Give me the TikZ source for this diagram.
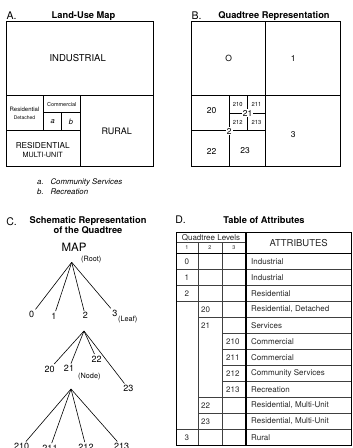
\documentclass[tikz,border=0pt]{standalone}
\usepackage{fontspec}
\setmainfont{TeX Gyre Heros}
\usetikzlibrary{positioning}
\usetikzlibrary{calc}
\newcommand{\fsz}[1]{\fontsize{#1}{#1}\selectfont}
\tikzstyle{mapline} = [draw, line width=0.8pt]
\tikzstyle{undirectededge} = [draw, line width=0.6pt]
\tikzstyle{tableline} = [draw, line width=0.5pt, black!75]
\tikzstyle{thickline} = [draw, line width=1.1pt]
\tikzstyle{heading} = [inner sep=0pt, font=\fsz{9.3}\bfseries]
\tikzstyle{letter} = [inner sep=0pt, font=\fsz{10.5}]
\tikzstyle{weight} = [inner sep=1pt, font=\fsz{8.5}]
\tikzstyle{smallweight} = [inner sep=0.8pt, font=\fsz{5.8}]
\tikzstyle{leaf} = [inner sep=1.5pt, font=\fsz{9}]
\tikzstyle{tag} = [inner sep=0pt, font=\fsz{7.3}]
\tikzstyle{legend} = [inner sep=0pt, font=\fsz{7.8}\itshape]
\tikzstyle{cell} = [inner sep=0pt, font=\fsz{8}, black!85]

\begin{document}
\begin{tikzpicture}[x=1pt, y=-1pt]
  \useasboundingbox (0,0) rectangle (353,448);

% Titles
  \node[letter] (labA) at (11.5, 15.5) {A.};
  \node[heading] (titA) at (83.5, 16) {Land-Use Map};
  \node[letter] (labB) at (196.5, 16) {B.};
  \node[heading] (titB) at (274, 16) {Quadtree Representation};
  \node[letter] (labC) at (11.5, 221.5) {C.};
  \node[heading] (titC) at (88, 221.5) {Schematic Representation};
  \node[heading] (titC2) at (88, 230) {of the Quadtree};
  \node[letter] (labD) at (180.5, 220) {D.};
  \node[heading] (titD) at (264, 220.5) {Table of Attributes};

%Map A
  \draw[mapline] (6,21) rectangle (153.3,166.7);
  \draw[mapline] (6,95) -- (153.3,95);
  \draw[mapline] (80,95) -- (80,166.7);
  \draw[mapline] (43.3,95) -- (43.3,130);
  \draw[mapline] (6,130) -- (80,130);
  \draw[mapline] (43.3,112.3) -- (80,112.3);
  \draw[mapline] (61.7,112.3) -- (61.7,130);

  \node[inner sep=0pt, font=\fsz{9.5}] (ind) at (77.7, 58.3) {INDUSTRIAL};
  \node[inner sep=0pt, font=\fsz{9}] (rur) at (116.7, 131.7) {RURAL};
  \node[inner sep=0pt, font=\fsz{8.2}] (resm) at (42.7, 146) {RESIDENTIAL};
  \node[inner sep=0pt, font=\fsz{7.2}] (resm2) at (42.7, 155.3) {MULTI-UNIT};
  \node[inner sep=0pt, font=\fsz{6}] (resd) at (24.5, 109.3) {Residential};
  \node[inner sep=0pt, font=\fsz{5}] (resd2) at (24.5, 117.3) {Detached};
  \node[inner sep=0pt, font=\fsz{5.5}] (com) at (61.7, 104.5) {Commercial};
  \node[inner sep=0pt, font=\fsz{7.5}\itshape] (mapa) at (52.7, 122) {a};
  \node[inner sep=0pt, font=\fsz{7.5}\itshape] (mapb) at (71, 122) {b};

  %Label
  \node[legend, anchor=west] (lega) at (37, 182) {a.};
  \node[legend, base right=6.5pt of lega] (legatxt) {Community Services};
  \node[legend, anchor=west] (legb) at (37, 192) {b.};
  \node[legend, base right=6.5pt of legb] (legbtxt) {Recreation};

%Quadtree B
  \draw[mapline] (191.7,21.7) rectangle (340.7,166.7);
  \draw[mapline] (265.7,21.7) -- (265.7,166.7);
  \draw[mapline] (191.7,95) -- (340.7,95);
  \draw[mapline] (191.7,130.7) -- (265.7,130.7);
  \draw[mapline] (229.3,95) -- (229.3,166.7);
  \draw[mapline] (229.3,113.3) -- (265.7,113.3);
  \draw[mapline] (247.7,95) -- (247.7,130.7);

  \node[weight, fill=white] (q2) at (229.3, 131.2) {2};
  \node[weight, fill=white] (q21) at (247.7, 113.3) {21};
  \foreach \pos/\name/\label in {{(228.7,58)/q0/O}, {(293.3,58)/q1/1}, {(293.3,135)/q3/3},
      {(211.7,110.7)/q20/20}, {(211.7,151)/q22/22}, {(245,151)/q23/23}}
    \node[weight] (\name) at \pos {\label};
  \foreach \pos/\name/\label in {{(237.8,104.5)/q210/210}, {(256.5,104.5)/q211/211},
      {(237.8,122.3)/q212/212}, {(256.5,122.3)/q213/213}}
    \node[smallweight] (\name) at \pos {\label};

%Tree C
  \node[inner sep=0pt, font=\fsz{11.5}] (map) at (74, 247.7) {MAP};
  \coordinate (root) at (71.7, 262.3);
  \coordinate (a2) at (84, 331);
  \coordinate (a21) at (71, 389);

  %layer 1
  \foreach \pos/\name/\label in {{(31.7,314.3)/n0/0}, {(54,316)/n1/1}, {(85.3,315.7)/n2/2}, {(115,313.3)/n3/3}}
    \node[leaf] (\name) at \pos {\label};
  %layer 2
  \foreach \pos/\name/\label in {{(49.7,369)/n20/20}, {(69,368.5)/n21/21}, {(96.7,359)/n22/22}, {(128.3,388.5)/n23/23}}
    \node[leaf] (\name) at \pos {\label};
  %layer 3
  \foreach \pos/\name/\label in {{(21.7,446.5)/n210/210}, {(50,448)/n211/211}, {(86,447)/n212/212}, {(121.7,446.5)/n213/213}}
    \node[leaf] (\name) at \pos {\label};

  \node[tag, anchor=west] (roottag) at (81, 260) {(Root)};
  \node[tag, anchor=west] (leaftag) at (118, 319.5) {(Leaf)};
  \node[tag, anchor=west] (nodetag) at (78, 376.5) {(Node)};

 % Edges
  \foreach \source/\dest in {root/n0, root/n1, root/n2, root/n3,
      a2/n20, a2/n21, a2/n22, a2/n23,
      a21/n210, a21/n211, a21/n212, a21/n213}
    \path[undirectededge] (\source) -- (\dest);

%Table D
  \def\tabL{176} \def\tabR{351.5} \def\tabBot{445.5}
  \def\colA{198} \def\colB{222} \def\colC{246}
  \def\rowT{232} \def\rowM{242.5} \def\rowB{253.5} \def\rowH{16}

  \draw[tableline] (\tabL,\rowM) -- (\colC,\rowM);
  \draw[tableline] (\colA,\rowM) -- (\colA,\tabBot);
  \draw[tableline] (\colB,\rowM) -- (\colB,\tabBot);
  \foreach \k/\xs in {1/\tabL, 2/\tabL, 3/\tabL, 4/\colA, 5/\colB, 6/\colB, 7/\colB, 8/\colB, 9/\colA, 10/\colA, 11/\tabL}
    \draw[tableline] ({\xs},{\rowB+\k*\rowH}) -- ({\tabR},{\rowB+\k*\rowH});
  \draw[thickline] (\tabL,\rowB) -- (\tabR,\rowB);
  \draw[thickline] (\colC,\rowT) -- (\colC,\tabBot);
  \draw[mapline] (\tabL,\rowT) rectangle (\tabR,\tabBot);

  %Header
  \node[cell] (hlev) at (211, 237.3) {Quadtree Levels};
  \node[cell, font=\fsz{5.5}] (h1) at (187, 248) {1};
  \node[cell, font=\fsz{5.5}] (h2) at (210, 248) {2};
  \node[cell, font=\fsz{5.5}] (h3) at (234, 248) {3};
  \node[cell, font=\fsz{9.5}] (hatt) at (298.7, 242.8) {ATTRIBUTES};

  %Rows
  \foreach \k/\name/\xl/\lvl/\attr in {0/r0/184.5/0/Industrial, 1/r1/184.5/1/Industrial,
      2/r2/184.5/2/Residential, 3/r20/201/20/{Residential, Detached}, 4/r21/201/21/Services,
      5/r210/226/210/Commercial, 6/r211/226/211/Commercial, 7/r212/226/212/Community Services,
      8/r213/226/213/Recreation, 9/r22/201/22/{Residential, Multi-Unit},
      10/r23/201/23/{Residential, Multi-Unit}, 11/r3/184.5/3/Rural}
  {
    \node[cell, anchor=west] (\name) at ({\xl},{\rowB+(\k+0.5)*\rowH}) {\lvl};
    \node[cell, anchor=west] (\name a) at (251,{\rowB+(\k+0.5)*\rowH}) {\attr};
  }

\end{tikzpicture}
\end{document}
